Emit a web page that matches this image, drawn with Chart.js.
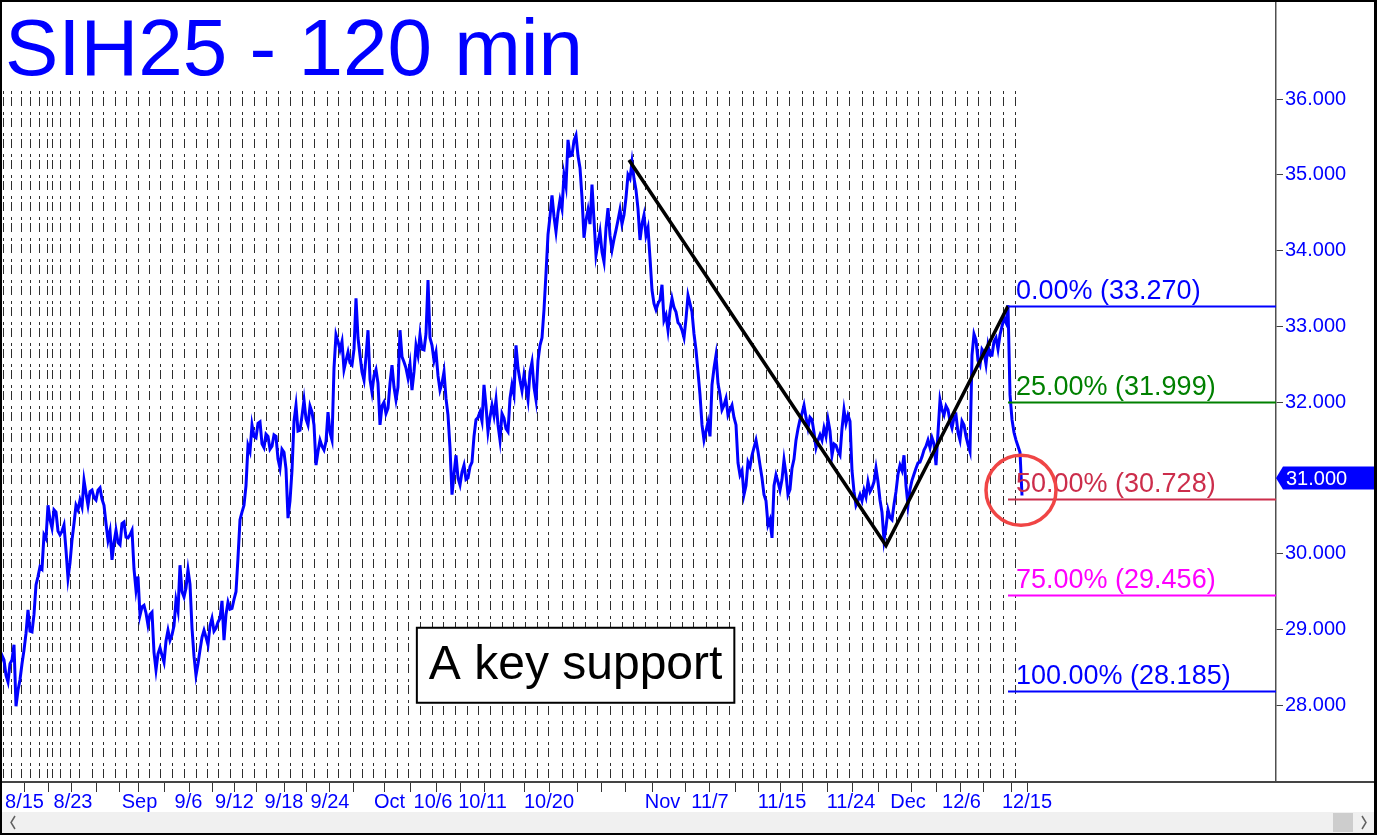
<!DOCTYPE html>
<html><head><meta charset="utf-8">
<script src="https://cdn.jsdelivr.net/npm/chart.js@4.4.1/dist/chart.umd.min.js"></script>
<style>html,body{margin:0;padding:0;background:#fff;overflow:hidden}canvas{display:block}</style>
</head><body>
<canvas id="c" width="1377" height="835"></canvas>
<script>
// ---- data (x unit = two 120-min bars; one price every half unit) ----
const chartTitle = 'SIH25 - 120 min';
const priceValues = [
28.53,28.66,28.60,28.40,28.31,28.55,28.60,28.80,27.99,28.20,28.34,28.55,28.73,28.95,29.26,28.98,28.97,29.20,29.59,29.70,
29.83,29.80,30.25,30.20,30.64,30.45,30.34,30.58,30.55,30.30,30.25,30.30,30.38,30.05,29.68,29.88,30.18,30.40,30.64,30.58,
30.71,30.62,30.97,30.80,30.64,30.82,30.84,30.74,30.71,30.84,30.87,30.72,30.64,30.40,30.18,30.30,29.92,30.15,30.31,30.15,
30.12,30.40,30.42,30.22,30.21,30.25,30.31,29.80,29.52,29.70,29.19,29.30,29.32,29.22,29.06,29.20,29.23,28.70,28.47,28.68,
28.76,28.66,28.57,28.85,28.99,28.86,28.93,29.05,29.39,29.25,29.85,29.50,29.43,29.55,29.79,29.60,29.02,28.65,28.40,28.55,
28.73,28.90,28.99,28.90,28.80,29.05,29.15,28.98,29.02,29.10,29.15,29.38,28.86,29.20,29.36,29.27,29.28,29.40,29.50,29.95,
30.45,30.55,30.64,30.90,31.43,31.35,31.70,31.55,31.53,31.72,31.74,31.45,31.40,31.58,31.55,31.38,31.42,31.57,31.55,31.25,
31.13,31.38,31.34,31.12,30.47,30.70,31.10,31.75,31.96,31.62,31.63,31.82,32.03,31.78,31.70,31.95,31.87,31.70,31.17,31.35,
31.50,31.42,31.37,31.48,31.87,31.60,31.50,32.45,32.89,32.80,32.69,32.80,32.43,32.55,32.66,32.52,32.49,32.70,33.37,32.85,
32.62,32.40,32.29,32.60,32.95,32.30,32.13,32.35,32.43,32.25,31.70,31.95,32.00,31.85,31.92,32.25,32.49,32.20,32.03,32.20,
32.95,32.60,32.53,32.45,32.32,32.50,32.16,32.40,32.75,32.62,32.89,32.70,32.69,32.90,33.61,32.85,32.75,32.55,32.66,32.35,
32.16,32.25,32.40,32.05,31.83,31.40,30.78,31.05,31.30,31.00,30.91,31.08,31.17,30.98,31.00,31.15,31.21,31.55,31.77,31.80,
31.87,31.75,32.23,31.95,31.61,31.80,31.96,31.82,32.03,31.70,31.50,31.85,31.79,31.65,31.61,32.05,32.23,32.10,32.75,32.45,
32.29,32.15,32.36,32.20,32.03,32.40,32.53,32.20,32.03,32.55,32.75,32.85,33.22,33.70,34.21,34.45,34.73,34.45,34.25,34.50,
34.67,34.55,35.00,34.85,35.46,35.25,35.26,35.45,35.52,35.25,35.09,34.70,34.17,34.40,34.54,34.35,34.87,34.40,33.94,34.10,
34.25,33.98,33.85,34.30,34.56,34.20,34.01,34.15,34.27,34.40,34.54,34.35,34.47,34.70,35.00,34.95,35.17,34.95,34.80,34.55,
34.14,34.35,34.47,34.20,34.30,33.90,33.48,33.30,33.22,33.30,33.35,33.55,33.08,33.15,32.95,33.20,33.37,33.25,33.19,33.05,
33.02,32.95,32.85,33.10,33.41,33.30,33.19,32.90,32.69,32.40,32.10,31.70,31.50,31.62,31.74,31.55,32.23,32.45,32.62,32.25,
32.10,31.90,31.96,32.05,31.83,31.90,31.96,31.80,31.70,31.20,31.04,31.10,30.78,30.90,31.21,31.15,31.30,31.40,31.50,31.35,
31.17,31.00,30.78,30.70,30.38,30.45,30.21,30.90,31.04,30.95,30.84,30.98,31.24,31.05,30.78,30.85,31.13,31.25,31.50,31.65,
31.77,31.85,31.96,31.80,31.66,31.80,31.77,31.60,31.40,31.50,31.57,31.50,31.66,31.55,31.77,31.62,31.30,31.45,31.43,31.35,
31.30,31.65,31.90,31.72,31.83,31.75,31.10,30.82,30.64,30.70,30.78,30.70,30.84,30.75,30.95,30.82,30.87,30.95,31.13,30.95,
30.71,30.55,30.18,30.35,30.58,30.48,30.45,30.65,30.82,31.05,31.17,31.10,31.30,30.90,30.64,30.85,30.97,31.05,31.13,31.20,
31.21,31.28,31.37,31.42,31.50,31.40,31.53,31.45,31.17,31.60,32.03,31.90,31.83,31.95,31.90,31.75,31.66,31.80,31.83,31.60,
31.50,31.75,31.70,31.55,31.44,31.35,32.62,32.90,32.82,32.55,32.49,32.70,32.66,32.50,32.75,32.62,32.62,32.80,32.85,32.70,
32.89,33.00,33.11,33.05,33.28,32.10,31.77,31.60,31.50,31.42,31.34,30.77
];
const abcBars   = [157.25, 221.5, 252];
const abcPrices = [35.195, 30.110, 33.270];
const fibLabels = ['0.00%', '25.00%', '50.00%', '75.00%', '100.00%'];
const fibLevels = [33.270, 31.999, 30.728, 29.456, 28.185];
const yTickValues = [28, 29, 30, 31, 32, 33, 34, 35, 36];
const xLabels   = ['8/15','8/23','Sep','9/6','9/12','9/18','9/24','Oct','10/6','10/11','10/20','Nov','11/7','11/15','11/24','Dec','12/6','12/15'];
const xLabelBars = [6.125,18.25,34.875,47.125,58.625,71,82.5,97.375,108.25,120.625,137.25,165.625,177.5,195.5,212.75,227,240.375,256.75];
const sessionBreakBars = [0.75,2.75,5.25,7.5,9.75,11.68,13.08,15,17.5,19.75,22.93,25.75,28.75,31.38,34.5,37.25,40,43,46,49,51.75,54.5,57.5,60.5,63.5,66.5,69.5,72.5,75.5,78.5,81.63,84.58,87.5,90.43,93.33,96.25,99.18,102.08,105,107.93,110.83,113.75,116.68,119.58,122.5,125.43,128.33,131.25,134.18,137.08,140.43,143.33,146.25,149.18,152.5,155.43,158.33,161.25,164.18,167.38,170.43,173.33,176.43,179.33,182.33,185.43,188.33,191.43,194.33,197.33,200.43,203.33,206.43,209.33,212.33,215.43,218.33,221.43,224,226.75,229.5,232.5,235.5,238.75,241.75,244.5,247.5,250.75,253.75];
const xTickMarkBars = [6,12,17.75,24,29.75,34.5,41,47.25,53,58.5,64,71,76.4,82.25,88.25,96,102.5,108.9,115,121,131,137.25,144.25,150.25,156.25,162.9,171.25,177.25,183.75,189.5,195.1,200.6,206.75,212.9,219.5,227.75,234,240,245.75,252.75,256.75];
const lastPrice = 31.000;
const circleBar = 255.25, circlePrice = 30.84;
const noteText = 'A key support';
const noteBar = 143.9, notePrice = 28.53;

// ---- drawing ----
const FONT = '"Liberation Sans", Arial, Helvetica, sans-serif';
const fibColors = ['#0000ff', '#008000', '#cc2d4b', '#ff00ff', '#0000ff'];

const decor = {
  id: 'decor',
  beforeDraw(c) {
    const ctx = c.ctx; ctx.save(); ctx.fillStyle = '#fff'; ctx.fillRect(0, 0, c.width, c.height); ctx.restore();
  },
  beforeDatasetsDraw(c) {
    const ctx = c.ctx, a = c.chartArea, xs = c.scales.x;
    ctx.save();
    ctx.strokeStyle = '#2e2e2e'; ctx.lineWidth = 1;
    ctx.setLineDash([3, 3, 9, 6]);
    sessionBreakBars.forEach(b => {
      const x = Math.round(xs.getPixelForValue(b)) + 0.5;
      ctx.beginPath(); ctx.moveTo(x, 91); ctx.lineTo(x, a.bottom); ctx.stroke();
    });
    ctx.restore();
  },
  afterDatasetsDraw(c) {
    const ctx = c.ctx, a = c.chartArea, xs = c.scales.x, ys = c.scales.y;
    ctx.save();
    const x0 = xs.getPixelForValue(abcBars[2]);
    fibLevels.forEach((lv, i) => {
      const y = Math.round(ys.getPixelForValue(lv)) + 0.5;
      ctx.strokeStyle = fibColors[i]; ctx.lineWidth = 2;
      ctx.beginPath(); ctx.moveTo(x0, y); ctx.lineTo(a.right, y); ctx.stroke();
      ctx.fillStyle = fibColors[i];
      ctx.font = '27px ' + FONT; ctx.textBaseline = 'alphabetic'; ctx.textAlign = 'left';
      ctx.fillText(fibLabels[i] + ' (' + lv.toFixed(3) + ')', x0 + 8, y - 8);
    });
    // red circle
    ctx.strokeStyle = '#f04545'; ctx.lineWidth = 3.5;
    ctx.beginPath();
    ctx.arc(xs.getPixelForValue(circleBar), ys.getPixelForValue(circlePrice), 35, 0, Math.PI * 2);
    ctx.stroke();
    // note box
    ctx.font = '48px ' + FONT;
    const tw = ctx.measureText(noteText).width;
    const cx = xs.getPixelForValue(noteBar), cy = ys.getPixelForValue(notePrice);
    const w = tw + 24, h = 75;
    ctx.fillStyle = '#fff';
    ctx.fillRect(cx - w / 2, cy - h / 2, w, h);
    ctx.strokeStyle = '#000'; ctx.lineWidth = 2;
    ctx.strokeRect(cx - w / 2, cy - h / 2, w, h);
    ctx.fillStyle = '#000'; ctx.textAlign = 'center'; ctx.textBaseline = 'alphabetic';
    ctx.fillText(noteText, cx, cy + 14);
    ctx.restore();
  },
  afterDraw(c) {
    const ctx = c.ctx, a = c.chartArea, xs = c.scales.x, ys = c.scales.y;
    ctx.save();
    // title
    ctx.fillStyle = '#0000ff'; ctx.font = '80px ' + FONT; ctx.textAlign = 'left'; ctx.textBaseline = 'alphabetic';
    ctx.fillText(chartTitle, 5, 75);
    // bottom axis line and ticks
    ctx.fillStyle = '#444'; ctx.fillRect(0, a.bottom - 1, c.width, 2);
    ctx.strokeStyle = '#333'; ctx.lineWidth = 1; ctx.setLineDash([]);
    xTickMarkBars.forEach(b => {
      const x = Math.round(xs.getPixelForValue(b)) + 0.5;
      ctx.beginPath(); ctx.moveTo(x, a.bottom + 1); ctx.lineTo(x, a.bottom + 10); ctx.stroke();
    });
    // last price tag
    const ty = ys.getPixelForValue(lastPrice);
    ctx.fillStyle = '#0000ff';
    ctx.beginPath();
    ctx.moveTo(a.right, ty); ctx.lineTo(a.right + 7, ty - 11.5); ctx.lineTo(c.width, ty - 11.5);
    ctx.lineTo(c.width, ty + 11.5); ctx.lineTo(a.right + 7, ty + 11.5); ctx.closePath(); ctx.fill();
    ctx.fillStyle = '#fff'; ctx.font = '20px ' + FONT; ctx.textBaseline = 'middle'; ctx.textAlign = 'left';
    ctx.fillText(lastPrice.toFixed(3), a.right + 10, ty + 1);
    // scrollbar
    ctx.fillStyle = '#f0f0f0'; ctx.fillRect(2, 812, c.width - 5, 21);
    ctx.fillStyle = '#cdcdcd'; ctx.fillRect(1333, 813, 20, 19);
    ctx.strokeStyle = '#606060'; ctx.lineWidth = 1.5;
    ctx.beginPath(); ctx.moveTo(15, 816); ctx.lineTo(11, 822.5); ctx.lineTo(15, 829); ctx.stroke();
    ctx.beginPath(); ctx.moveTo(1362, 816); ctx.lineTo(1366, 822.5); ctx.lineTo(1362, 829); ctx.stroke();
    // frame
    ctx.fillStyle = '#000';
    ctx.fillRect(0, 0, c.width, 2);
    ctx.fillRect(0, 0, 2, c.height);
    ctx.fillRect(c.width - 3, 0, 3, c.height);
    ctx.fillRect(0, c.height - 2, c.width, 2);
    ctx.restore();
  }
};

new Chart(document.getElementById('c'), {
  type: 'line',
  data: {
    datasets: [
      {
        label: 'ABC',
        data: abcBars.map((b, i) => ({ x: b, y: abcPrices[i] })),
        borderColor: '#000', borderWidth: 3.5, pointRadius: 0, tension: 0, order: 0
      },
      {
        label: 'SIH25',
        data: priceValues.map((v, i) => ({ x: i / 2, y: v })),
        borderColor: '#0000ff', borderWidth: 3, pointRadius: 0, tension: 0, order: 1
      }
    ]
  },
  options: {
    responsive: false, animation: false, events: [],
    layout: { padding: { left: 0, right: 0, top: 0, bottom: 22 } },
    plugins: { legend: { display: false }, tooltip: { enabled: false }, title: { display: false } },
    scales: {
      x: {
        type: 'linear', min: 0, max: 319,
        grid: { display: false, drawTicks: false },
        border: { display: false },
        afterBuildTicks: s => { s.ticks = xLabelBars.map(v => ({ value: v })); },
        afterFit: s => { s.height = 31; s.paddingLeft = 0; s.paddingRight = 0; },
        ticks: {
          autoSkip: false, maxRotation: 0, minRotation: 0, padding: 8,
          color: '#0000ff', font: { family: FONT, size: 20 },
          callback: (v, i) => xLabels[i]
        }
      },
      y: {
        position: 'right', min: 26.99, max: 37.306,
        grid: { drawOnChartArea: false, drawTicks: true, tickLength: 7, color: '#404040' },
        border: { display: true, color: '#505050', width: 1.5 },
        afterBuildTicks: s => { s.ticks = yTickValues.map(v => ({ value: v })); },
        afterFit: s => { s.width = 101; s.paddingTop = 0; s.paddingBottom = 0; },
        ticks: {
          padding: 2, color: '#0000ff', font: { family: FONT, size: 20 },
          callback: v => Number(v).toFixed(3)
        }
      }
    }
  },
  plugins: [decor]
});
</script>
</body></html>
